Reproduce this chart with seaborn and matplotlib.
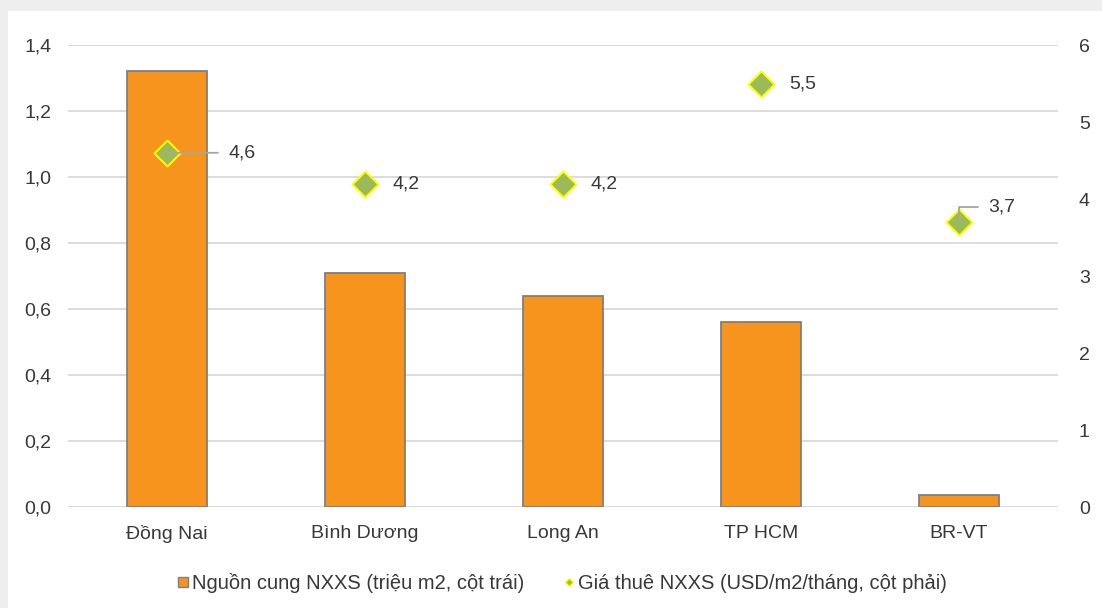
import matplotlib
matplotlib.use('Agg')
import matplotlib.pyplot as plt
import seaborn as sns
import pandas as pd
from matplotlib.patches import Rectangle
from matplotlib.lines import Line2D
from matplotlib.ticker import FuncFormatter

sns.set_style('white')
plt.rcParams['font.family'] = ['Liberation Sans', 'DejaVu Sans']

# Dữ liệu
provinces = ['Đồng Nai', 'Bình Dương', 'Long An', 'TP HCM', 'BR-VT']
supply = [1.32, 0.71, 0.64, 0.56, 0.035]      # triệu m2, cột trái
rent = [4.6, 4.2, 4.2, 5.5, 3.7]              # USD/m2/tháng, cột phải
rent_labels = ['4,6', '4,2', '4,2', '5,5', '3,7']
left_ticks = [0, 0.2, 0.4, 0.6, 0.8, 1.0, 1.2, 1.4]
right_ticks = [0, 1, 2, 3, 4, 5, 6]

txt = '#383838'
orange = '#F7941D'
green = '#9BBB59'

df = pd.DataFrame({'province': provinces, 'supply': supply, 'rent': rent})

fig = plt.figure(figsize=(11.02, 6.08), dpi=100, facecolor='#eeeeee')
fig.patches.append(Rectangle((8 / 1102, 0), 1, 597 / 608, transform=fig.transFigure,
                             facecolor='white', edgecolor='none', zorder=-5))
ax = fig.add_axes([68 / 1102, 1 - 507 / 608, 990 / 1102, 462 / 608])
ax.set_facecolor('none')

sns.barplot(data=df, x='province', y='supply', color=orange, width=0.4,
            edgecolor='#7f7f7f', linewidth=1.3, saturation=1, ax=ax, zorder=2)
ax.set_ylim(0, 1.4)
ax.set_xlim(-0.5, 4.5)
ax.set_yticks(left_ticks)
ax.yaxis.set_major_formatter(FuncFormatter(lambda v, p: f'{v:.1f}'.replace('.', ',')))
ax.grid(axis='y', color='#d9d9d9', linewidth=1.3, zorder=0)
ax.set_axisbelow(True)
ax.set_xlabel('')
ax.set_ylabel('')
ax.tick_params(axis='y', length=0, labelsize=14, labelcolor=txt, pad=12)
ax.tick_params(axis='x', length=0, labelsize=14, labelcolor=txt, pad=13)
for s in ax.spines.values():
    s.set_visible(False)

ax2 = ax.twinx()
sns.scatterplot(data=df, x='province', y='rent', marker='D', s=175, color=green,
                edgecolor='#ffff00', linewidth=1.4, ax=ax2, zorder=3, legend=False)
ax2.set_ylim(0, 6)
ax2.set_yticks(right_ticks)
ax2.set_ylabel('')
ax2.tick_params(axis='y', length=0, labelsize=14, labelcolor=txt, pad=15)
for s in ax2.spines.values():
    s.set_visible(False)

# Nhãn dữ liệu
offsets = [(44, 0), (20, 0), (20, 0), (20, 0), (21, 11)]
for i, (lab, off) in enumerate(zip(rent_labels, offsets)):
    leader = None
    if i == 0:
        leader = dict(arrowstyle='-', color='#a6a6a6', lw=1.3, shrinkA=5, shrinkB=0)
    elif i == 4:
        leader = dict(arrowstyle='-', color='#a6a6a6', lw=1.3, shrinkA=5, shrinkB=0,
                      connectionstyle='angle,angleA=0,angleB=90,rad=0')
    ax2.annotate(lab, xy=(i, rent[i]), xytext=off, textcoords='offset points',
                 ha='left', va='center', fontsize=14, color=txt, arrowprops=leader)

handles = [
    Line2D([], [], marker='s', linestyle='none', markersize=7.5, markerfacecolor=orange,
           markeredgecolor='#7f7f7f', label='Nguồn cung NXXS (triệu m2, cột trái)'),
    Line2D([], [], marker='D', linestyle='none', markersize=4.2, markerfacecolor=green,
           markeredgecolor='#ffff00', label='Giá thuê NXXS (USD/m2/tháng, cột phải)'),
]
leg = fig.legend(handles=handles, loc='center', bbox_to_anchor=(0.509, 1 - 583 / 608), ncol=2,
                 frameon=False, fontsize=14.5, handletextpad=0.05, columnspacing=1.8, handlelength=0.8)
for t in leg.get_texts():
    t.set_color(txt)

plt.savefig('out.png', dpi=100, facecolor=fig.get_facecolor())
